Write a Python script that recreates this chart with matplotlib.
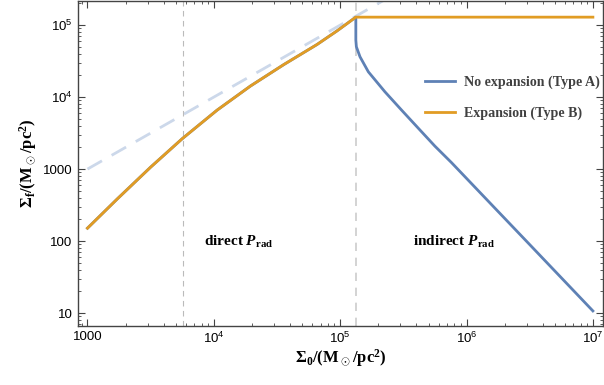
import numpy as np
import matplotlib.pyplot as plt
from matplotlib.ticker import LogLocator, FixedLocator, FixedFormatter, NullFormatter

plt.rcParams['mathtext.fontset'] = 'custom'
plt.rcParams['mathtext.rm'] = 'Liberation Sans'
plt.rcParams['mathtext.bf'] = 'Liberation Serif:bold'
plt.rcParams['mathtext.bfit'] = 'Liberation Serif:bold:italic'

BLUE   = '#5E81B5'
ORANGE = '#E19C24'

# rising branch (shared by both models)
sigma0_rise = [1000, 1722, 3162, 5623, 10617, 19498, 35727, 65615, 94406, 1.33e5]
sigmaf_rise = [151, 385, 1064, 2642, 6592, 14256, 28249, 53827, 83176, 1.29e5]

# no expansion (type A) after the break
sigma0_a = [1.33e5, 1.33e5, 1.343e5, 1.435e5, 1.671e5, 2.259e5, 3.062e5, 4.150e5,
            5.610e5, 7.603e5, 1.585e6, 3.162e6, 1e7]
sigmaf_a = [1.29e5, 61944, 50000, 36308, 22439, 11858, 6592, 3698,
            2089, 1230, 318, 89.3, 10.7]

# expansion (type B) after the break
sigma0_b = [1.33e5, 1e7]
sigmaf_b = [1.29e5, 1.29e5]

# one-to-one reference line
sigma0_ref = [1000, 1e7]
sigmaf_ref = [1000, 1e7]

sigma_direct   = 5690
sigma_indirect = 1.334e5

xticks  = [1e3, 1e4, 1e5, 1e6, 1e7]
xlabels = ['1000', r'$10^4$', r'$10^5$', r'$10^6$', r'$10^7$']
yticks  = [10, 100, 1000, 1e4, 1e5]
ylabels = ['10', '100', '1000', r'$10^4$', r'$10^5$']

fig = plt.figure(figsize=(6.04, 3.85), dpi=100)
ax  = fig.add_axes([78/604, 1 - 326/385, (603-78)/604, 325/385])

ax.plot(sigma0_ref, sigmaf_ref, color='#CCD8EA', lw=2, dashes=(6, 4))
ax.axvline(sigma_direct, color='#BBBBBB', lw=0.8, dashes=(5, 4))
ax.axvline(sigma_indirect, color='#CCCCCC', lw=1.2, dashes=(5, 4))

ax.plot(sigma0_rise + sigma0_a, sigmaf_rise + sigmaf_a, color=BLUE, lw=2,
        label='No expansion (Type A)')
ax.plot(sigma0_rise + sigma0_b, sigmaf_rise + sigmaf_b, color=ORANGE, lw=2,
        label='Expansion (Type B)')

ax.set_xscale('log')
ax.set_yscale('log')
ax.set_xlim(10**2.925, 10**7.08)
ax.set_ylim(10**0.82, 10**5.335)

ax.xaxis.set_major_locator(FixedLocator(xticks))
ax.xaxis.set_major_formatter(FixedFormatter(xlabels))
ax.yaxis.set_major_locator(FixedLocator(yticks))
ax.yaxis.set_major_formatter(FixedFormatter(ylabels))
ax.xaxis.set_minor_locator(LogLocator(base=10, subs=np.arange(2, 10)))
ax.yaxis.set_minor_locator(LogLocator(base=10, subs=np.arange(2, 10)))
ax.xaxis.set_minor_formatter(NullFormatter())
ax.yaxis.set_minor_formatter(NullFormatter())

ax.tick_params(which='both', direction='in', top=True, right=True,
               color='#444444', labelsize=9.5, labelfontfamily='Liberation Sans')
ax.tick_params(which='major', length=5, width=0.8)
ax.tick_params(which='minor', length=2.5, width=0.6)
ax.tick_params(axis='x', pad=3.5)
ax.tick_params(axis='y', pad=4)
for s in ax.spines.values():
    s.set_color('#444444')
    s.set_linewidth(1.0)

ax.set_xlabel(r'$\mathbf{\Sigma_0/(M_\odot/pc^2)}$', fontsize=12, labelpad=1)
ax.set_ylabel(r'$\mathbf{\Sigma_f/(M_\odot/pc^2)}$', fontsize=12, labelpad=3)

ax.text(1.58e4, 97, r'direct $\mathbfit{P}_{\mathbf{rad}}$', ha='center', va='center',
        fontsize=11, family='Liberation Serif', weight='bold')
ax.text(7.9e5, 97, r'indirect $\mathbfit{P}_{\mathbf{rad}}$', ha='center', va='center',
        fontsize=11, family='Liberation Serif', weight='bold')

leg = ax.legend(loc='center left', bbox_to_anchor=(0.66, 0.703), frameon=False,
                handlelength=2.2, handletextpad=0.6, labelspacing=1.25,
                borderpad=0, borderaxespad=0,
                prop={'family': 'Liberation Serif', 'weight': 'bold', 'size': 10.1})
for t in leg.get_texts():
    t.set_color('#404040')

fig.savefig('out.png', dpi=100)
